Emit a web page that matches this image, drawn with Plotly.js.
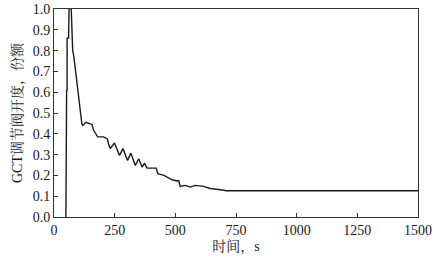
<!DOCTYPE html>
<html>
<head>
<meta charset="utf-8">
<script src="https://cdn.plot.ly/plotly-3.0.1.min.js"></script>
<style>html,body{margin:0;padding:0;background:#fff;}#chart{width:434px;height:261px;}</style>
</head>
<body>
<div id="chart"></div>
<script>
const timeS = [49, 49, 52, 52, 54, 54, 60, 60, 63, 68, 71, 77, 82, 115, 119, 132, 149, 157, 163, 174, 180, 204, 220, 225, 232, 249, 270, 284, 303, 317, 335, 349, 363, 373, 383, 421, 428, 453, 466, 487, 507, 514, 520, 541, 562, 582, 616, 644, 685, 712, 1500];
const valveOpening = [0, 0.40, 0.43, 0.61, 0.61, 0.86, 0.86, 1.0, 1.06, 1.06, 1.0, 0.80, 0.77, 0.446, 0.44, 0.455, 0.449, 0.445, 0.417, 0.393, 0.385, 0.385, 0.375, 0.35, 0.329, 0.356, 0.296, 0.329, 0.272, 0.307, 0.248, 0.28, 0.24, 0.259, 0.235, 0.235, 0.208, 0.20, 0.192, 0.179, 0.173, 0.175, 0.147, 0.152, 0.144, 0.152, 0.147, 0.137, 0.131, 0.126, 0.126];
const xTicks = [0, 250, 500, 750, 1000, 1250, 1500];
const yTicks = [0, 0.1, 0.2, 0.3, 0.4, 0.5, 0.6, 0.7, 0.8, 0.9, 1.0];
const xTitle = '时间，s';
const yTitle = 'GCT调节阀开度，份额';

const font = 'Liberation Serif, Times New Roman, Noto Serif CJK SC, Noto Sans CJK SC, serif';
Plotly.newPlot('chart', [{
  x: timeS, y: valveOpening, type: 'scatter', mode: 'lines',
  line: {color: '#1a1a1a', width: 1.4}, hoverinfo: 'none'
}], {
  width: 434, height: 261,
  margin: {l: 54, r: 16, t: 9, b: 44, pad: 0},
  paper_bgcolor: '#fff', plot_bgcolor: '#fff',
  showlegend: false,
  font: {family: font, size: 14, color: '#1a1a1a'},
  xaxis: {
    range: [0, 1500], tickvals: xTicks, ticktext: xTicks.map(String),
    ticks: 'inside', ticklen: 4, tickwidth: 1, tickcolor: '#333',
    showline: true, linecolor: '#333', linewidth: 1, mirror: true,
    showgrid: false, zeroline: false,
    title: {text: xTitle, font: {family: font, size: 14}, standoff: 4}
  },
  yaxis: {
    range: [0, 1.0], tickvals: yTicks, ticktext: yTicks.map(v => v.toFixed(1)),
    ticks: 'inside', ticklen: 4, tickwidth: 1, tickcolor: '#333',
    showline: true, linecolor: '#333', linewidth: 1, mirror: true,
    showgrid: false, zeroline: false,
    title: {text: yTitle, font: {family: font, size: 14}, standoff: 6}
  }
}, {staticPlot: true, displayModeBar: false});
</script>
</body>
</html>
